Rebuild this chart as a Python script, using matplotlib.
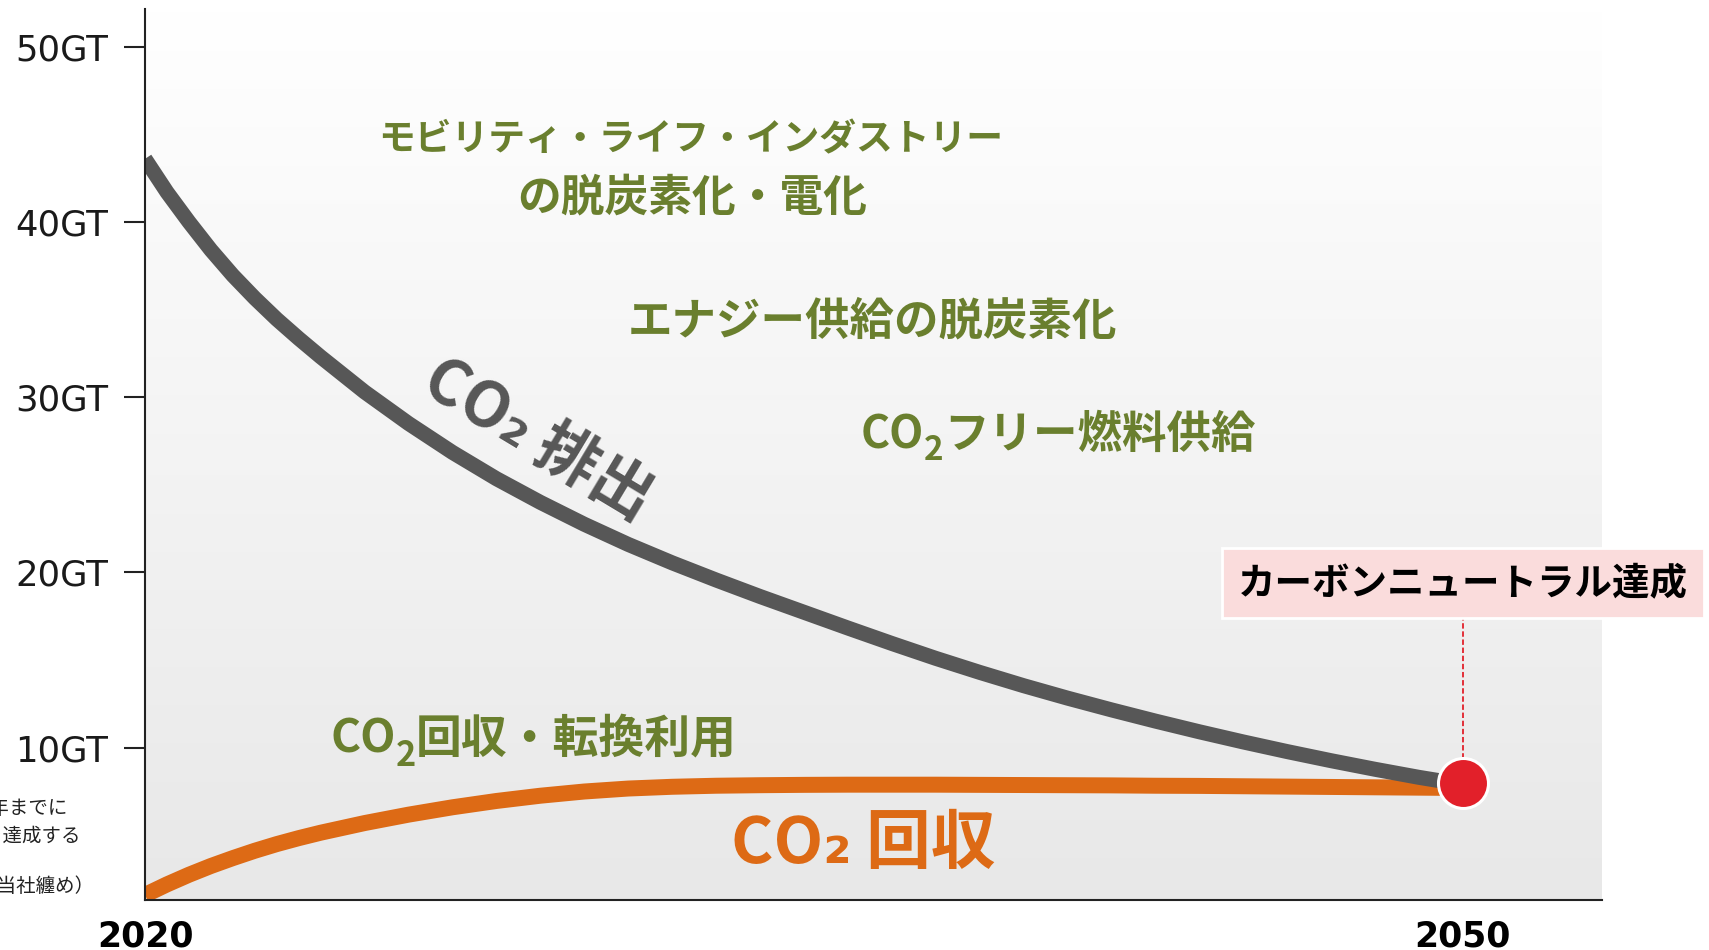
import numpy as np
import matplotlib.pyplot as plt

# values (GT of CO2)
years = [2020, 2020.5, 2021, 2021.5, 2022, 2022.5, 2023, 2023.5, 2024, 2025,
         2026, 2027, 2028, 2029, 2030, 2031, 2032, 2033, 2034, 2035, 2036,
         2037, 2038, 2039, 2040, 2041, 2042, 2043, 2044, 2045, 2046, 2047,
         2048, 2049, 2050]
emissions = [43.6, 41.7, 40.0, 38.4, 36.95, 35.65, 34.45, 33.35, 32.3, 30.3,
             28.5, 26.85, 25.35, 24.0, 22.75, 21.6, 20.55, 19.57, 18.63, 17.73, 16.83,
             15.95, 15.1, 14.3, 13.54, 12.83, 12.16, 11.52, 10.91, 10.33, 9.78, 9.26,
             8.77, 8.31, 7.9]
capture = [1.6, 2.2, 2.75, 3.25, 3.7, 4.12, 4.5, 4.84, 5.15, 5.7,
           6.18, 6.6, 6.96, 7.26, 7.5, 7.67, 7.77, 7.83, 7.86, 7.88, 7.89,
           7.89, 7.89, 7.88, 7.87, 7.86, 7.85, 7.83, 7.82, 7.8, 7.78, 7.76,
           7.74, 7.72, 7.7]
neutral_year = 2050
neutral_value = 8.0
y_ticks = [10, 20, 30, 40, 50]
y_tick_labels = ['10GT', '20GT', '30GT', '40GT', '50GT']
x_ticks = [2020, 2050]
x_tick_labels = ['2020', '2050']

GREEN = '#6a7f2e'
GREY = '#575757'
ORANGE = '#dd6a15'
RED = '#e2202a'
JP = ['Noto Sans CJK JP', 'DejaVu Sans']

plt.rcParams['font.family'] = ['DejaVu Sans']

W, H = 1709, 950
fig = plt.figure(figsize=(W / 100, H / 100), dpi=100)
ax = fig.add_axes([145 / W, 50 / H, (1602 - 145) / W, (900 - 9) / H])
xmin, xmax, ymin, ymax = 2020, 2053.17, 1.31, 52.15
ax.set_xlim(xmin, xmax)
ax.set_ylim(ymin, ymax)

# soft vertical gradient background
grad = np.linspace(232, 255, 256)[:, None, None] / 255 * np.ones((1, 1, 3))
ax.imshow(grad, extent=[xmin, xmax, ymin, ymax], origin='lower',
          aspect='auto', zorder=0)

ax.plot(years, capture, color=ORANGE, lw=11.5, solid_capstyle='butt',
        solid_joinstyle='round', zorder=2)
ax.plot(years, emissions, color=GREY, lw=10.8, solid_capstyle='butt',
        solid_joinstyle='round', zorder=3)

# carbon neutral marker + callout
ax.vlines(neutral_year, neutral_value, 18.5, colors=RED, lw=1.3,
          linestyles=(0, (3, 1.5)), zorder=4)
ax.plot(neutral_year, neutral_value, 'o', ms=36, mfc=RED, mec='white', mew=2.2,
        clip_on=False, zorder=6)
ax.text(neutral_year, 19.4, 'カーボンニュートラル達成', family=JP, fontsize=27,
        fontweight='bold', color='black', ha='center', va='center', zorder=7,
        bbox=dict(boxstyle='square,pad=0.42', fc='#fadcdc', ec='white', lw=2))

# axes styling
for s in ['top', 'right']:
    ax.spines[s].set_visible(False)
for s in ['left', 'bottom']:
    ax.spines[s].set_linewidth(1.5)
    ax.spines[s].set_color('#222222')
    ax.spines[s].set_zorder(8)
ax.set_yticks(y_ticks)
ax.set_yticklabels(y_tick_labels)
ax.tick_params(axis='y', length=15, width=1.5, pad=11.5, labelsize=25.5,
               labelcolor='#1a1a1a', color='#222222')
ax.set_xticks(x_ticks)
ax.set_xticklabels(x_tick_labels, fontweight='bold')
ax.tick_params(axis='x', length=0, pad=14, labelsize=25, labelcolor='black')

# curve labels
ax.text(2028.95, 27.55, 'CO₂ 排出', family=JP, fontsize=45, fontweight='bold',
        color=GREY, rotation=-31, rotation_mode='anchor', ha='center',
        va='center', zorder=5)
ax.text(2036.35, 3.42, 'CO₂ 回収', family=JP, fontsize=46.5, fontweight='bold',
        color=ORANGE, ha='center', va='baseline', zorder=5)

# green annotations
ax.text(2032.43, 44.68, 'モビリティ・ライフ・インダストリー', family=JP,
        fontsize=26.5, fontweight='bold', color=GREEN, ha='center', va='center')
ax.text(2032.45, 41.37, 'の脱炭素化・電化', family=JP, fontsize=31.5,
        fontweight='bold', color=GREEN, ha='center', va='center')
ax.text(2036.57, 34.32, 'エナジー供給の脱炭素化', family=JP, fontsize=32,
        fontweight='bold', color=GREEN, ha='center', va='center')


def co2_label(x, y, rest, size):
    t1 = ax.text(x, y, 'CO', family=JP, fontsize=size, fontweight='bold',
                 color=GREEN, ha='left', va='baseline', zorder=5)
    t2 = ax.annotate('2', xy=(1, y - 0.15), xycoords=(t1, 'data'), family=JP,
                     fontsize=size * 0.75, fontweight='bold', color=GREEN,
                     ha='left', va='center', zorder=5)
    ax.annotate(rest, xy=(1, y), xycoords=(t2, 'data'), family=JP,
                fontsize=size, fontweight='bold', color=GREEN,
                ha='left', va='baseline', zorder=5)


co2_label(2036.3, 27.1, 'フリー燃料供給', 32)
co2_label(2024.22, 9.7, '回収・転換利用', 33)

# source note, cut off at the left edge
notes = ['2050年までに', 'カーボンニュートラルを達成する', '（出所：IEA資料を基に当社纏め）']
note_pos = [(68, 809), (81, 836), (95, 886)]
for txt, (px, py) in zip(notes, note_pos):
    fig.text(px / W, 1 - py / H, txt, family=JP, fontsize=14, color='#222222',
             ha='right', va='center')

fig.savefig('out.png', dpi=100)
